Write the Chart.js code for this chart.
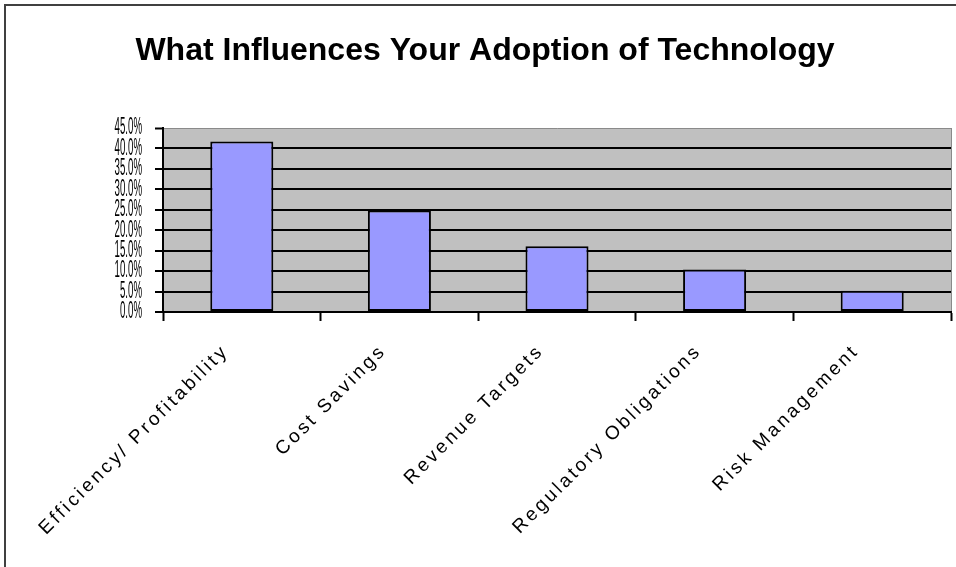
<!DOCTYPE html>
<html>
<head>
<meta charset="utf-8">
<script src="https://cdn.jsdelivr.net/npm/chart.js@4/dist/chart.umd.min.js"></script>
<style>
  html, body { margin: 0; padding: 0; background: #fff; }
  #wrap { position: relative; width: 956px; height: 567px; overflow: hidden; }
  #frame {
    position: absolute; left: 4px; top: 4px; width: 990px; height: 600px;
    border-left: 2px solid #404040; border-top: 2px solid #404040;
    pointer-events: none;
  }
</style>
</head>
<body>
<div id="wrap">
  <canvas id="chart" width="956" height="567"></canvas>
  <div id="frame"></div>
</div>
<script>
const titleText = 'What Influences Your Adoption of Technology';
const categories = [
  'Efficiency/ Profitability',
  'Cost Savings',
  'Revenue Targets',
  'Regulatory Obligations',
  'Risk Management',
];
const shares = [41.7, 24.8, 16.1, 10.4, 5.2];
const yMax = 45;
const yStep = 5;

// Grey plot area behind the grid.
const plotBackground = {
  id: 'plotBackground',
  beforeDraw(chart) {
    const { ctx, chartArea: a } = chart;
    ctx.save();
    ctx.fillStyle = '#c0c0c0';
    ctx.fillRect(a.left, a.top, a.right - a.left, a.bottom - a.top);
    ctx.restore();
  },
};

// Old spreadsheet look: wide-spaced category labels, squeezed tall percent labels.
const labelStyle = {
  id: 'labelStyle',
  afterLayout(chart) {
    const x = chart.scales.x;
    if (!x._styled) {
      const origX = x.drawLabels;
      x.drawLabels = function (area) {
        const c = this.ctx;
        c.save();
        c.letterSpacing = '3px';
        c.translate(-16, 5);
        origX.call(this, area);
        c.restore();
      };
      x._styled = true;
    }
    const y = chart.scales.y;
    if (!y._styled) {
      const origY = y.drawLabels;
      y.drawLabels = function (area) {
        const c = this.ctx;
        const edge = this.right - 8 - 13;
        c.save();
        c.translate(edge, 0);
        c.scale(0.42, 1);
        c.translate(-edge, 0);
        origY.call(this, area);
        c.restore();
      };
      y._styled = true;
    }
  },
};

new Chart(document.getElementById('chart'), {
  type: 'bar',
  data: {
    labels: categories,
    datasets: [{
      data: shares,
      backgroundColor: '#9999ff',
      borderColor: '#000000',
      borderWidth: 2,
      borderSkipped: false,
      barPercentage: 0.4,
      categoryPercentage: 1,
    }],
  },
  options: {
    responsive: false,
    animation: false,
    layout: { padding: { left: 19, right: 5, top: 0, bottom: 0 } },
    plugins: {
      legend: { display: false },
      tooltip: { enabled: false },
      title: {
        display: true,
        text: titleText,
        color: '#000',
        font: { family: "'Liberation Sans', Arial, sans-serif", size: 32, weight: 'bold' },
        padding: { top: 32, bottom: 57.6 },
      },
    },
    scales: {
      x: {
        grid: {
          drawOnChartArea: true,
          color: (c) => (c.index === undefined ? '#8a8a8a' : 'rgba(0,0,0,0)'),
          lineWidth: 1,
          tickColor: '#000',
          tickWidth: 2,
          tickLength: 9,
        },
        border: { display: true, color: '#000', width: 2 },
        ticks: {
          color: '#000',
          minRotation: 45,
          maxRotation: 45,
          padding: 14,
          font: { family: "'Liberation Sans', Arial, sans-serif", size: 19 },
        },
        afterFit(scale) { scale.height = 255; },
      },
      y: {
        min: 0,
        max: yMax,
        ticks: {
          stepSize: yStep,
          autoSkip: false,
          color: '#000',
          padding: 13,
          font: { family: "'Liberation Sans', Arial, sans-serif", size: 23 },
          callback: (v) => v.toFixed(1) + '%',
        },
        grid: {
          color: (c) => (c.tick && c.tick.value === yMax ? '#8a8a8a' : '#000'),
          lineWidth: (c) => (c.tick && c.tick.value === yMax ? 1 : 2),
          tickColor: '#000',
          tickWidth: 2,
          tickLength: 8,
        },
        border: { display: true, color: '#000', width: 2 },
        afterFit(scale) { scale.width = 144; },
      },
    },
  },
  plugins: [plotBackground, labelStyle],
});
</script>
</body>
</html>
